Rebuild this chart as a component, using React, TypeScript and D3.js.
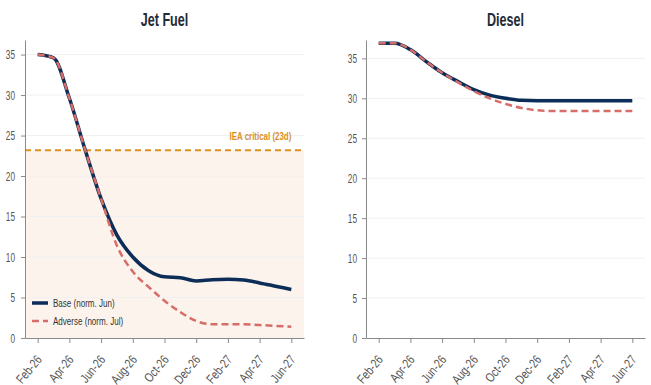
import React, { useRef, useEffect } from 'react';
import * as d3 from 'd3';

const months = ["Feb-26", "Mar-26", "Apr-26", "May-26", "Jun-26", "Jul-26", "Aug-26", "Sep-26", "Oct-26", "Nov-26", "Dec-26", "Jan-27", "Feb-27", "Mar-27", "Apr-27", "May-27", "Jun-27"];
const tickMonths = ["Feb-26", "Apr-26", "Jun-26", "Aug-26", "Oct-26", "Dec-26", "Feb-27", "Apr-27", "Jun-27"];
const yTicks = [0, 5, 10, 15, 20, 25, 30, 35];

const jetBase = [35.0, 34.6, 29.6, 23.2, 17.2, 12.7, 10.0, 8.3, 7.55, 7.45, 7.05, 7.2, 7.25, 7.15, 6.8, 6.4, 6.0];
const jetAdverse = [35.0, 34.6, 29.6, 23.2, 17.2, 11.4, 8.2, 6.3, 4.6, 3.2, 2.1, 1.7, 1.7, 1.7, 1.6, 1.5, 1.4];
const dieselBase = [36.9, 36.9, 36.1, 34.6, 33.2, 32.1, 31.1, 30.4, 30.0, 29.75, 29.7, 29.7, 29.7, 29.7, 29.7, 29.7, 29.7];
const dieselAdverse = [36.9, 36.9, 36.1, 34.6, 33.2, 32.0, 30.9, 30.0, 29.3, 28.8, 28.5, 28.4, 28.4, 28.4, 28.4, 28.4, 28.4];
const ieaCritical = 23.2;

const BASE_COLOR = "#0c2d57";
const ADV_COLOR = "#d66d68";
const IEA_COLOR = "#d9901f";
const FONT = "'Liberation Sans', Arial, sans-serif";
const SQUEEZE = 0.7; // the reference uses a narrow face

const App = () => {
  const ref = useRef<SVGSVGElement>(null);

  useEffect(() => {
    document.body.style.margin = "0";
    const svg = d3.select(ref.current);
    svg.selectAll("*").remove();

    const panels = [
      { title: "Jet Fuel", base: jetBase, adverse: jetAdverse, left: 25, right: 304, yMax: 36.8, iea: true, legend: true, labelGap: 10 },
      { title: "Diesel", base: dieselBase, adverse: dieselAdverse, left: 366, right: 645, yMax: 37.3, iea: false, legend: false, labelGap: 9 },
    ];
    const top = 40;
    const bottom = 338;

    // narrow text helper
    const narrowText = (parent, x, y, s = SQUEEZE) =>
      parent.append("g")
        .attr("transform", `translate(${x},${y}) scale(${s},1)`)
        .append("text");

    panels.forEach(p => {
      const g = svg.append("g").style("font-family", FONT);

      const x = d3.scalePoint<string>().domain(months).range([p.left, p.right]).padding(0.8);
      const y = d3.scaleLinear().domain([0, p.yMax]).range([bottom, top]);

      // title
      narrowText(g, (p.left + p.right) / 2, 26)
        .attr("text-anchor", "middle")
        .attr("font-size", 18)
        .attr("font-weight", "bold")
        .attr("fill", "#222b36")
        .text(p.title);

      // shading under critical level
      if (p.iea) {
        g.append("rect")
          .attr("x", p.left)
          .attr("y", y(ieaCritical))
          .attr("width", p.right - p.left)
          .attr("height", bottom - y(ieaCritical))
          .attr("fill", "#fcf3ec");
      }

      // gridlines
      g.append("g")
        .selectAll("line")
        .data(yTicks.filter(d => d > 0))
        .join("line")
        .attr("x1", p.left)
        .attr("x2", p.right)
        .attr("y1", d => y(d))
        .attr("y2", d => y(d))
        .attr("stroke", "#f0f0f0")
        .attr("stroke-width", 1);

      if (p.iea) {
        g.append("line")
          .attr("x1", p.left)
          .attr("x2", p.right)
          .attr("y1", y(ieaCritical))
          .attr("y2", y(ieaCritical))
          .attr("stroke", IEA_COLOR)
          .attr("stroke-width", 2)
          .attr("stroke-dasharray", "6,4");
        narrowText(g, x("Jun-27")!, y(ieaCritical) - 10, 0.72)
          .attr("text-anchor", "end")
          .attr("font-size", 11)
          .attr("font-weight", "bold")
          .attr("fill", IEA_COLOR)
          .text("IEA critical (23d)");
      }

      // y axis
      const yAxis = g.append("g")
        .attr("transform", `translate(${p.left},0)`)
        .call(d3.axisLeft(y).tickValues(yTicks).tickSize(4).tickSizeOuter(0));
      yAxis.select(".domain").attr("stroke", "#8a8a8a");
      yAxis.selectAll(".tick line").attr("stroke", "#8a8a8a");
      yAxis.selectAll(".tick text")
        .attr("fill", "#555")
        .attr("font-size", 12.5)
        .attr("font-family", FONT)
        .attr("x", 0)
        .attr("transform", `translate(${-p.labelGap},0) scale(0.66,1)`);

      // x axis
      const xAxis = g.append("g")
        .attr("transform", `translate(0,${bottom})`)
        .call(d3.axisBottom(x).tickValues(tickMonths).tickSize(5).tickSizeOuter(0));
      xAxis.select(".domain").attr("stroke", "#8a8a8a");
      xAxis.selectAll(".tick line").attr("stroke", "#8a8a8a");
      xAxis.selectAll(".tick text")
        .attr("fill", "#555")
        .attr("font-size", 13)
        .attr("font-family", FONT)
        .style("text-anchor", "end")
        .attr("x", 0)
        .attr("y", 0)
        .attr("dy", "0.35em")
        .attr("transform", "translate(1,19) rotate(-50) scale(0.78,1)");

      const line = d3.line<number>()
        .curve(d3.curveMonotoneX)
        .x((d, i) => x(months[i])!)
        .y(d => y(d));

      g.append("path")
        .datum(p.base)
        .attr("fill", "none")
        .attr("stroke", BASE_COLOR)
        .attr("stroke-width", 3.5)
        .attr("stroke-linejoin", "round")
        .attr("d", line);

      g.append("path")
        .datum(p.adverse)
        .attr("fill", "none")
        .attr("stroke", ADV_COLOR)
        .attr("stroke-width", 2.5)
        .attr("stroke-dasharray", "7,4")
        .attr("d", line);

      if (p.legend) {
        const items = [
          { label: "Base (norm. Jun)", color: BASE_COLOR, w: 3.5, dash: null },
          { label: "Adverse (norm. Jul)", color: ADV_COLOR, w: 2.5, dash: "7,4" },
        ];
        const lg = g.append("g");
        items.forEach((it, i) => {
          const ly = 303 + i * 18;
          lg.append("line")
            .attr("x1", 32).attr("x2", 48)
            .attr("y1", ly).attr("y2", ly)
            .attr("stroke", it.color)
            .attr("stroke-width", it.w)
            .attr("stroke-dasharray", it.dash);
          narrowText(lg, 53, ly + 4, 0.7)
            .attr("font-size", 11.5)
            .attr("fill", "#333")
            .text(it.label);
        });
      }
    });
  }, []);

  return <svg ref={ref} width={651} height={385} style={{ display: "block", background: "#fff" }} />;
};

export default App;
